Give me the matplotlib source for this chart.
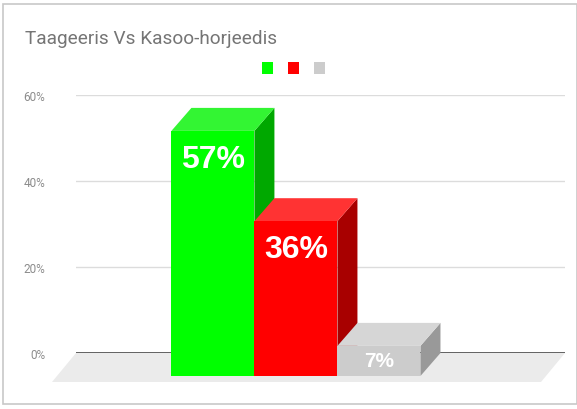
import matplotlib.pyplot as plt
from matplotlib.patches import Polygon, Rectangle
from matplotlib.transforms import ScaledTranslation

# chart data
title = "Taageeris Vs Kasoo-horjeedis"
labels = ["57%", "36%", "7%"]
values = [57, 36, 7]
front_colors = ["#00ff00", "#ff0000", "#cccccc"]
top_colors = ["#33f533", "#ff3333", "#d6d6d6"]
side_colors = ["#00a800", "#a80000", "#999999"]
yticks = [0, 20, 40, 60]
ytick_labels = ["0%", "20%", "40%", "60%"]

W, H = 577, 410
fig = plt.figure(figsize=(W / 100, H / 100), dpi=100)
fig.patch.set_facecolor("white")

# back plane axes (gridlines live here)
ax = fig.add_axes([76 / W, (H - 354) / H, (565 - 76) / W, (354 - 96) / H])
ax.set_xlim(-1.89, 4.0)
ax.set_ylim(0, 60)
ax.set_facecolor("none")
for s in ax.spines.values():
    s.set_visible(False)
ax.set_xticks([])
ax.set_yticks(yticks)
ax.set_yticklabels(ytick_labels, color="#8c8c8c", fontsize=8.5, family="Roboto")
ax.tick_params(axis="y", length=0, pad=22)
for t in ax.get_yticklabels():
    t.set_horizontalalignment("right")
for y in yticks[1:]:
    ax.axhline(y, color="#dcdcdc", lw=1, zorder=0)
ax.axhline(0, color="#555555", lw=1.3, zorder=1)

# depth offsets in pixels
dx, dy = 20, 23
fdx, fdy = 24, 29
front = ax.transData + ScaledTranslation(-dx / 100, -dy / 100, fig.dpi_scale_trans)

# floor
x0, x1 = ax.get_xlim()
ux = (x1 - x0) / (565 - 76)  # data units per pixel
uy = 60 / 258  # data units per pixel vertically
floor = Polygon([(x0 - fdx * ux, -fdy * uy), (x1 - fdx * ux, -fdy * uy),
                 (x1, 0), (x0, 0)], closed=True, facecolor="#ebebeb",
                edgecolor="none", transform=ax.transData, zorder=0.5, clip_on=False)
ax.add_patch(floor)

for i, v in enumerate(values):
    l, r = i - 0.5, i + 0.5
    z = 2 + i * 3
    # side face (back coords)
    side = Polygon([(r - dx * ux, -dy * uy), (r, 0), (r, v), (r - dx * ux, v - dy * uy)],
                   closed=True, facecolor=side_colors[i], edgecolor="none",
                   transform=ax.transData, zorder=z, clip_on=False)
    top = Polygon([(l - dx * ux, v - dy * uy), (r - dx * ux, v - dy * uy), (r, v), (l, v)],
                  closed=True, facecolor=top_colors[i], edgecolor="none",
                  transform=ax.transData, zorder=z + 1, clip_on=False)
    face = Rectangle((l, 0), 1, v, facecolor=front_colors[i], edgecolor="none",
                     transform=front, zorder=z + 2, clip_on=False)
    ax.add_patch(side)
    ax.add_patch(top)
    ax.add_patch(face)
    h_px = v / uy
    off = min(28, h_px / 2)
    fs = 23 if v > 20 else 15
    ax.annotate(labels[i], xy=(i, v), xycoords=front, xytext=(0, -off * 0.72),
                textcoords="offset points", ha="center", va="center",
                color="white", fontsize=fs, fontweight="bold",
                family="Liberation Sans", zorder=20, annotation_clip=False)

# title and legend
fig.text(25 / W, 1 - 39 / H, title, fontsize=13.7, color="#757575",
         family="Roboto", va="center", ha="left")
for i, c in enumerate(front_colors):
    fig.patches.append(Rectangle(((262 + 26 * i) / W, 1 - 75 / H), 11 / W, 12 / H,
                                 facecolor=c, edgecolor="none",
                                 transform=fig.transFigure, figure=fig))

# outer frame
fig.patches.append(Rectangle((3 / W, 1 - 405 / H), 574 / W, 400 / H, fill=False,
                             edgecolor="#c8c8c8", lw=1.2,
                             transform=fig.transFigure, figure=fig))

fig.savefig("out.png", dpi=100)
